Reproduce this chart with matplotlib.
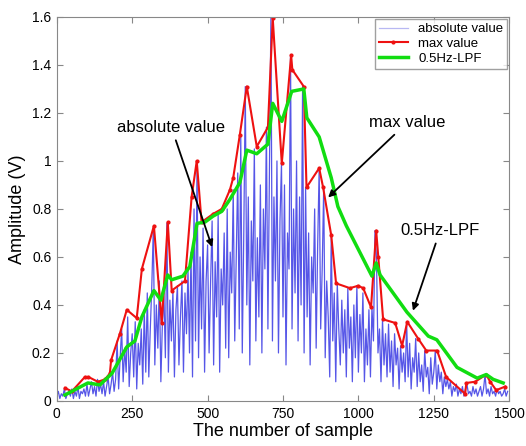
import numpy as np
import matplotlib
matplotlib.use("Agg")
import matplotlib.pyplot as plt
from matplotlib.ticker import FormatStrFormatter

plt.rcParams['font.family'] = ['Liberation Sans', 'DejaVu Sans']

# absolute value of the signal, one value every 5 samples
abs_step = 5
abs_value = [
    0.02, 0.04, 0.01, 0.03, 0.02, 0.05, 0.01, 0.03, 0.04, 0.02, 0.05, 0.01, 0.04, 0.02, 0.06, 0.01, 0.04, 0.03, 0.05, 0.02,
    0.07, 0.02, 0.05, 0.08, 0.03, 0.06, 0.02, 0.09, 0.04, 0.07, 0.03, 0.08, 0.02, 0.06, 0.10, 0.03, 0.07, 0.12, 0.04, 0.09,
    0.25, 0.05, 0.18, 0.30, 0.08, 0.22, 0.12, 0.35, 0.06, 0.20, 0.28, 0.10, 0.33, 0.05, 0.24, 0.15, 0.30, 0.07, 0.38, 0.12,
    0.45, 0.10, 0.30, 0.48, 0.72, 0.15, 0.40, 0.22, 0.50, 0.08, 0.32, 0.45, 0.18, 0.74, 0.12, 0.42, 0.25, 0.46, 0.10, 0.38,
    0.48, 0.15, 0.35, 0.50, 0.12, 0.45, 0.28, 0.55, 0.20, 0.62, 0.10, 0.80, 0.25, 0.99, 0.18, 0.60, 0.30, 0.72, 0.12, 0.50,
    0.65, 0.20, 0.50, 0.75, 0.15, 0.58, 0.35, 0.78, 0.12, 0.55, 0.40, 0.70, 0.22, 0.80, 0.18, 0.62, 0.45, 0.88, 0.25, 0.60,
    0.95, 0.30, 1.10, 0.20, 0.70, 1.31, 0.40, 0.85, 0.15, 0.75, 0.50, 1.05, 0.25, 0.68, 0.35, 0.90, 0.20, 0.80, 0.55, 1.14,
    0.30, 0.95, 1.60, 0.25, 0.85, 0.50, 1.00, 0.20, 0.75, 0.99, 0.35, 0.90, 0.15, 0.70, 0.55, 1.44, 0.30, 0.80, 0.45, 1.00,
    0.25, 0.85, 0.40, 1.31, 0.20, 0.89, 0.35, 0.70, 0.15, 0.60, 0.45, 0.80, 0.22, 0.65, 0.97, 0.30, 0.55, 0.89, 0.18, 0.50,
    0.35, 0.10, 0.69, 0.25, 0.45, 0.08, 0.49, 0.30, 0.15, 0.42, 0.20, 0.38, 0.10, 0.47, 0.22, 0.35, 0.08, 0.40, 0.18, 0.48,
    0.12, 0.36, 0.20, 0.45, 0.08, 0.30, 0.15, 0.38, 0.10, 0.39, 0.25, 0.71, 0.60, 0.20, 0.30, 0.08, 0.34, 0.15, 0.28, 0.10,
    0.32, 0.12, 0.25, 0.06, 0.28, 0.15, 0.22, 0.05, 0.23, 0.12, 0.20, 0.08, 0.33, 0.10, 0.24, 0.05, 0.18, 0.12, 0.26, 0.06,
    0.20, 0.08, 0.15, 0.04, 0.21, 0.10, 0.14, 0.03, 0.18, 0.07, 0.12, 0.21, 0.05, 0.15, 0.08, 0.12, 0.03, 0.10, 0.06, 0.09,
    0.05, 0.08, 0.02, 0.06, 0.04, 0.07, 0.02, 0.05, 0.03, 0.06, 0.02, 0.05, 0.07, 0.03, 0.04, 0.02, 0.06, 0.03, 0.05, 0.02,
    0.04, 0.06, 0.02, 0.05, 0.11, 0.03, 0.05, 0.02, 0.06, 0.03, 0.04, 0.02, 0.05, 0.03, 0.04, 0.02, 0.03, 0.05, 0.02, 0.04,
]

# max value (red)
max_x = [27, 50, 93, 105, 136, 160, 176, 180, 209, 232, 265, 282, 322, 348, 368, 381, 425, 447, 464,
         480, 519, 547, 574, 585, 607, 630, 663, 700, 716, 746, 777, 781, 819, 828, 870, 883, 910,
         926, 972, 999, 1016, 1042, 1059, 1066, 1082, 1122, 1145, 1162, 1198, 1225, 1261, 1291,
         1354, 1358, 1387, 1424, 1437, 1457, 1487]
max_y = [0.054, 0.04, 0.10, 0.10, 0.08, 0.09, 0.115, 0.17, 0.28, 0.38, 0.345, 0.55, 0.73, 0.325, 0.745, 0.46, 0.50, 0.85, 1.00,
         0.745, 0.78, 0.80, 0.88, 0.93, 1.11, 1.31, 1.06, 1.14, 1.595, 0.99, 1.44, 1.38, 1.31, 0.89, 0.97, 0.89, 0.69,
         0.49, 0.47, 0.48, 0.47, 0.39, 0.71, 0.60, 0.34, 0.325, 0.23, 0.33, 0.26, 0.21, 0.21, 0.10,
         0.03, 0.075, 0.08, 0.11, 0.08, 0.045, 0.06]

# 0.5Hz low pass filter (green)
lpf_x = [27, 103, 143, 183, 232, 259, 282, 322, 345, 368, 381, 418, 441, 465, 491, 518, 547, 574, 607,
         630, 663, 700, 716, 746, 779, 819, 829, 870, 910, 932, 960, 1045, 1059, 1072, 1161, 1232,
         1260, 1327, 1394, 1424, 1447, 1480]
lpf_y = [0.025, 0.075, 0.067, 0.115, 0.225, 0.25, 0.35, 0.46, 0.42, 0.525, 0.505, 0.52, 0.56, 0.74, 0.745, 0.77, 0.79, 0.84, 0.91,
         1.045, 1.03, 1.07, 1.24, 1.165, 1.29, 1.30, 1.18, 1.10, 0.93, 0.81, 0.73, 0.52, 0.575, 0.525, 0.37, 0.27,
         0.255, 0.14, 0.095, 0.11, 0.09, 0.075]

fig = plt.figure(figsize=(5.26, 4.46), dpi=100)
ax = fig.add_axes([0.108, 0.101, 0.86, 0.861])

xs = np.arange(len(abs_value)) * abs_step
ax.plot(xs, abs_value, color='#1e1ee0', lw=0.9, alpha=0.75, label='absolute value')
ax.plot(max_x, max_y, color='#ee1111', lw=1.5, marker='.', markersize=4, label='max value')
ax.plot(lpf_x, lpf_y, color='#11dd11', lw=2.5, label='0.5Hz-LPF')

ax.set_xlim(0, 1500)
ax.set_ylim(0, 1.6)
ax.set_xticks([0, 250, 500, 750, 1000, 1250, 1500])
ax.set_yticks(np.arange(0, 1.61, 0.2))
ax.yaxis.set_major_formatter(FormatStrFormatter('%g'))
ax.tick_params(direction='in', top=True, right=True, labelsize=10, length=4, color='#888888', pad=4)
for s in ax.spines.values():
    s.set_color('#888888')

ax.set_xlabel('The number of sample', fontsize=13, labelpad=2)
ax.set_ylabel('Amplitude (V)', fontsize=13, labelpad=4)

leg = ax.legend(loc='upper right', fontsize=9.5, fancybox=False, edgecolor='#888888',
                borderpad=0.3, labelspacing=0.2, handlelength=2.2, borderaxespad=0.15)
leg.legend_handles[0].set_color('#a0a0f0')

arrow = dict(arrowstyle='-|>', color='black', lw=1.3, mutation_scale=10)
ax.annotate('absolute value', xy=(518, 0.63), xytext=(380, 1.14), fontsize=12,
            ha='center', va='center', arrowprops=arrow)
ax.annotate('max value', xy=(893, 0.84), xytext=(1162, 1.16), fontsize=12,
            ha='center', va='center', arrowprops=arrow)
ax.annotate('0.5Hz-LPF', xy=(1178, 0.365), xytext=(1271, 0.71), fontsize=12,
            ha='center', va='center', arrowprops=arrow)

fig.savefig('out.png', dpi=100)
